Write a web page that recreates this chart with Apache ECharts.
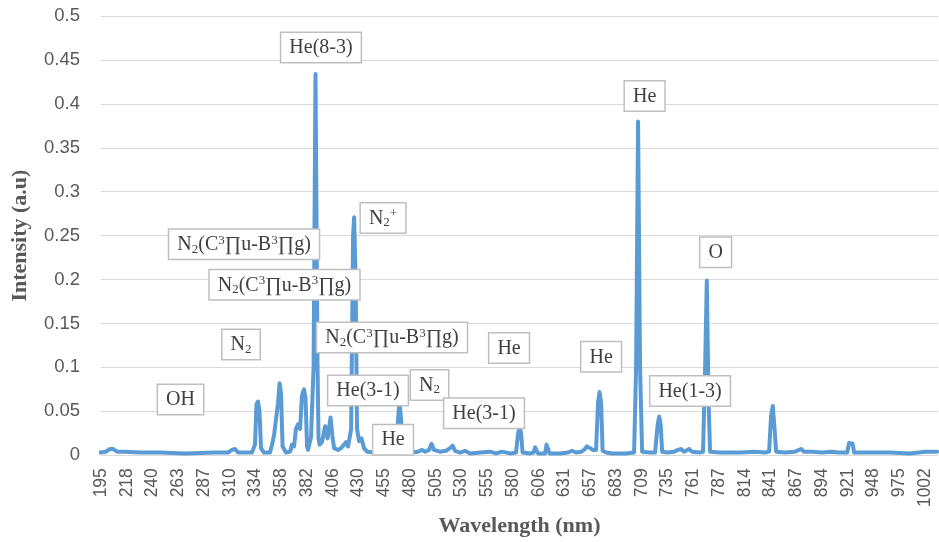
<!DOCTYPE html>
<html><head><meta charset="utf-8">
<script src="https://cdn.jsdelivr.net/npm/echarts@6.0.0/dist/echarts.min.js"></script>
<style>html,body{margin:0;padding:0;background:#fff}#c{width:939px;height:542px}</style>
</head><body><div id="c"></div>
<script>
// Category tick labels of the spectrometer axis (nm), evenly spaced on the chart
const tickLabels = [195,218,240,263,287,310,334,358,382,406,430,455,480,505,530,555,580,606,631,657,683,709,735,761,787,814,841,867,894,921,948,975,1002];

// Spectrum
const wavelength = [194.1,199.5,203.0,205.7,209.3,216.4,229.3,246.7,269.3,296.8,
308.4,312.1,314.9,317.7,330.7,333.5,334.9,336.3,337.7,339.1,
341.9,347.5,349.4,351.3,353.1,355.0,356.4,357.8,359.2,362.4,
366.2,368.0,369.9,371.7,373.6,375.5,377.3,379.2,380.6,382.0,
382.9,385.7,388.1,389.9,391.8,392.7,393.7,396.0,398.8,401.1,
403.9,405.8,407.2,410.9,413.7,416.5,418.4,420.3,423.1,424.9,
425.9,427.3,428.6,430.5,432.9,435.3,438.3,446.0,460.6,466.4,
468.3,469.8,471.3,473.2,481.9,487.8,491.7,494.6,498.5,500.9,
503.3,509.1,515.0,518.9,521.3,523.7,528.5,533.4,538.3,548.0,
557.7,563.5,569.3,577.1,583.0,585.1,586.6,588.1,589.6,597.2,
600.7,602.2,603.7,605.2,612.1,613.5,615.0,616.4,626.6,634.5,
638.6,642.6,647.7,650.7,653.7,656.7,659.8,662.8,664.8,666.3,
667.9,669.4,672.9,674.9,679.0,692.1,701.2,703.2,705.2,707.2,
709.3,717.4,722.4,725.0,726.5,728.0,729.5,734.5,741.6,745.6,
748.6,751.7,753.7,756.7,759.7,767.8,770.8,772.9,774.6,776.4,
777.9,788.0,809.0,824.8,835.2,839.4,841.5,843.2,845.0,846.6,
855.6,865.7,869.9,872.0,875.1,883.5,894.0,904.5,910.8,920.3,
922.3,924.1,926.0,927.6,944.3,965.3,986.3,1002.0,1014.6];

const intensity = [0.003,0.004,0.007,0.007,0.004,0.004,0.003,0.003,0.002,0.003,
0.003,0.006,0.007,0.003,0.003,0.012,0.058,0.061,0.050,0.008,
0.003,0.003,0.012,0.023,0.022,0.060,0.082,0.070,0.010,0.003,
0.004,0.012,0.010,0.030,0.035,0.030,0.068,0.075,0.065,0.010,
0.006,0.020,0.100,0.434,0.100,0.020,0.012,0.015,0.033,0.019,
0.043,0.020,0.008,0.006,0.008,0.012,0.015,0.010,0.030,0.250,
0.271,0.200,0.030,0.016,0.019,0.008,0.004,0.003,0.003,0.004,
0.040,0.062,0.040,0.004,0.003,0.004,0.006,0.004,0.006,0.013,
0.006,0.004,0.005,0.008,0.011,0.005,0.003,0.005,0.002,0.003,
0.004,0.002,0.004,0.002,0.003,0.025,0.032,0.025,0.003,0.002,
0.003,0.009,0.008,0.002,0.002,0.012,0.011,0.002,0.002,0.003,
0.005,0.003,0.004,0.006,0.010,0.008,0.006,0.006,0.060,0.072,
0.060,0.005,0.003,0.004,0.002,0.002,0.003,0.100,0.380,0.100,
0.004,0.003,0.003,0.035,0.044,0.035,0.004,0.003,0.004,0.006,
0.007,0.004,0.004,0.007,0.004,0.003,0.004,0.100,0.199,0.060,
0.004,0.003,0.003,0.004,0.003,0.004,0.045,0.056,0.030,0.004,
0.003,0.004,0.006,0.007,0.004,0.004,0.003,0.004,0.003,0.003,
0.014,0.016,0.013,0.003,0.003,0.003,0.002,0.004,0.004];

// Peak annotations (text, anchor wavelength, anchor intensity)
const annoText = ['He(8-3)','N{sub|2}{sup|+}','N{sub|2}(C{sup|3}∏u-B{sup|3}∏g)','N{sub|2}(C{sup|3}∏u-B{sup|3}∏g)',
  'N{sub|2}(C{sup|3}∏u-B{sup|3}∏g)','N{sub|2}','OH','He(3-1)','He','N{sub|2}','He(3-1)','He','He','He','O','He(1-3)'];
const annoWavelength = [395.0,453.8,323.3,361.0,462.5,320.5,265.1,439.2,463.5,498.9,551.8,576.1,667.9,711.8,783.5,757.7];
const annoIntensity = [0.464,0.270,0.240,0.194,0.134,0.126,0.0635,0.0737,0.0176,0.080,0.0476,0.122,0.112,0.409,0.231,0.0731];

// map wavelength to the evenly spaced tick grid of the axis
function toPos(w){
  const T = tickLabels, n = T.length;
  if (w <= T[0]) return (w - T[0]) / (T[1] - T[0]);
  for (let i = 0; i < n - 1; i++) {
    if (w <= T[i+1]) return i + (w - T[i]) / (T[i+1] - T[i]);
  }
  return n - 1 + (w - T[n-1]) / (T[n-1] - T[n-2]);
}

const lineData = wavelength.map((w, i) => [toPos(w), intensity[i]]);
const annoData = annoWavelength.map((w, i) => [toPos(w), annoIntensity[i]]);

const serif = '"Liberation Serif","Times New Roman",serif';
const richStyles = {
  sub: { fontFamily: serif, fontSize: 13, lineHeight: 13, verticalAlign: 'bottom', fill: '#404040', color: '#404040' },
  sup: { fontFamily: serif, fontSize: 13, lineHeight: 13, verticalAlign: 'top', fill: '#404040', color: '#404040' }
};

const chart = echarts.init(document.getElementById('c'), null, {renderer: 'canvas'});
chart.setOption({
  animation: false,
  backgroundColor: '#fff',
  grid: { left: 101, right: 1, top: 16, bottom: 85, containLabel: false },
  xAxis: {
    type: 'value', min: 0, max: 32.5, interval: 1,
    name: 'Wavelength (nm)', nameLocation: 'middle', nameGap: 57,
    nameTextStyle: { fontFamily: serif, fontWeight: 'bold', fontSize: 22, color: '#595959' },
    axisLine: { show: true, lineStyle: { color: '#D9D9D9', width: 1 } },
    axisTick: { show: false },
    splitLine: { show: false },
    axisLabel: {
      rotate: 90, margin: 13, fontSize: 17.5, color: '#595959',
      fontFamily: '"Liberation Sans", Arial, sans-serif',
      showMaxLabel: false,
      formatter: v => (Number.isInteger(v) && tickLabels[v] !== undefined) ? String(tickLabels[v]) : ''
    }
  },
  yAxis: {
    type: 'value', min: 0, max: 0.5, interval: 0.05,
    name: 'Intensity (a.u)', nameLocation: 'middle', nameGap: 70,
    nameTextStyle: { fontFamily: serif, fontWeight: 'bold', fontSize: 22, color: '#595959' },
    axisLine: { show: false }, axisTick: { show: false },
    splitLine: { lineStyle: { color: '#D9D9D9', width: 1 } },
    axisLabel: { margin: 21, fontSize: 18.5, color: '#595959', fontFamily: '"Liberation Sans", Arial, sans-serif' }
  },
  series: [
    {
      type: 'line', data: lineData, showSymbol: false, symbol: 'none',
      lineStyle: { color: '#5B9BD5', width: 4, cap: 'round', join: 'round' },
      z: 2
    },
    {
      type: 'custom', data: annoData, z: 10, clip: false,
      encode: { x: 0, y: 1 },
      renderItem: function (params, api) {
        const p = api.coord([api.value(0), api.value(1)]);
        return {
          type: 'text', x: p[0], y: p[1], z2: 100,
          style: {
            text: annoText[params.dataIndex],
            fontFamily: serif, fontSize: 20, lineHeight: 22, fill: '#404040',
            align: 'center', verticalAlign: 'middle',
            backgroundColor: '#ffffff', borderColor: '#BFBFBF', borderWidth: 1.5,
            padding: [4, 8, 3, 8],
            rich: richStyles
          }
        };
      }
    }
  ]
});
</script></body></html>
